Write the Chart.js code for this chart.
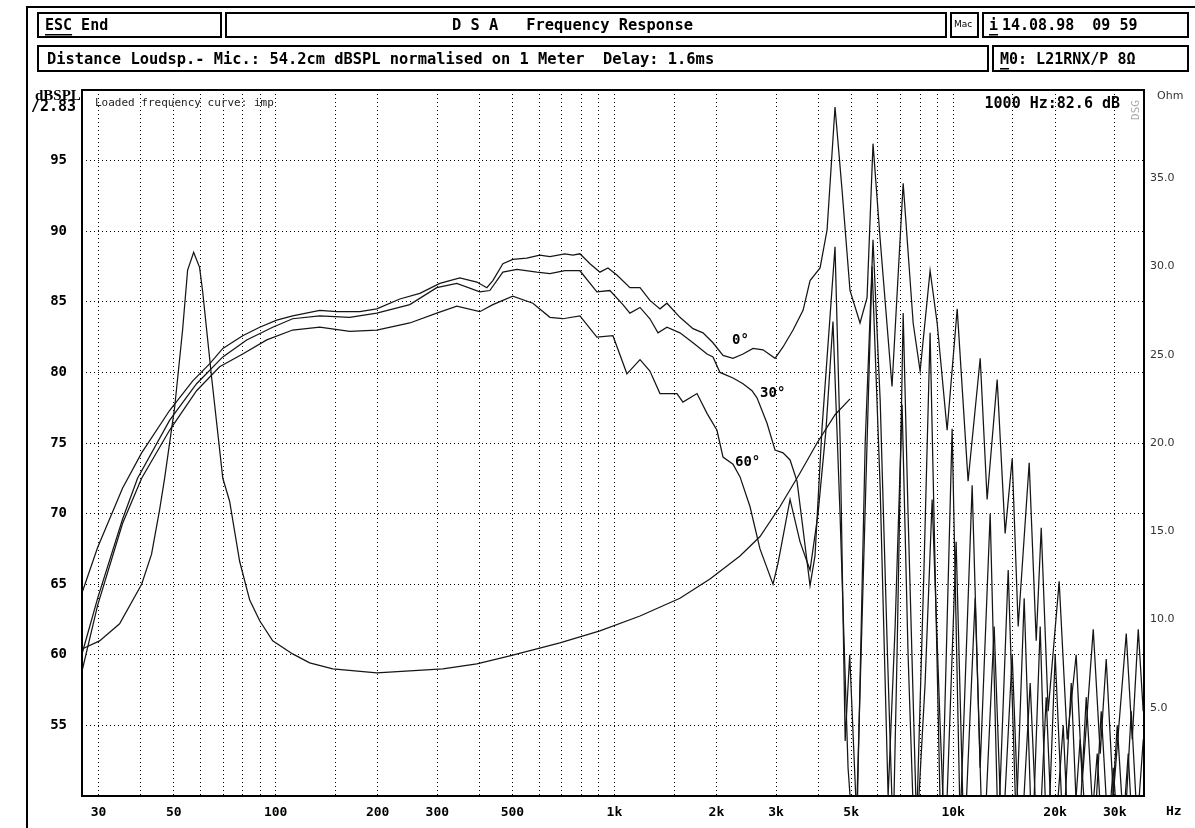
<!DOCTYPE html>
<html><head><meta charset="utf-8">
<script src="https://cdn.jsdelivr.net/npm/chart.js@4.4.1/dist/chart.umd.min.js"></script>
<style>html,body{margin:0;padding:0;background:#fff;overflow:hidden}canvas{display:block}</style>
</head><body>
<canvas id="c" width="1195" height="828"></canvas>
<script>
// ---------- data (frequency in Hz, level in dBSPL, impedance in Ohm) ----------
const F_0 = [26.9,29.8,35.3,40.2,48.6,56.9,63.8,69.8,79.9,89.7,100.7,112.2,134.9,151.4,177.1,198.8,232.5,266.4,305.1,349.6,392.5,420.1,437.6,468.5,501,551,602,645,714,754,791,847,906,957,1017,1111,1190,1273,1363,1429,1561,1706,1826,1954,2092,2239,2397,2566,2746,2980,3146,3368,3605,3781,4047,4245,
  4480,4700,4960,5310,5570,5800,6090,6600,7120,7620,7990,8550,8970,9600,10280,11070,12020,12600,13490,14240,14940,15560,16770,17590,18200,19080,20560,21720,23080,24050,25920,27180,28310,29700,32440,33790,35200,36400];
const DB_0 = [64.5,67.6,71.8,74.3,77.3,79.4,80.6,81.7,82.6,83.2,83.7,84.0,84.4,84.3,84.3,84.5,85.2,85.6,86.3,86.7,86.4,86.0,86.5,87.7,88.0,88.1,88.3,88.2,88.4,88.3,88.4,87.7,87.1,87.4,86.9,86.0,86.0,85.1,84.5,84.9,83.9,83.1,82.8,82.1,81.2,81.0,81.3,81.7,81.6,81.0,81.8,83.0,84.4,86.5,87.4,90.1,
  98.8,92.9,85.8,83.5,85.3,96.2,89.4,79.0,93.4,83.5,80.1,87.2,83.5,75.9,84.5,72.3,81.0,71.0,79.5,68.6,73.9,62.0,73.6,61.0,69.0,56.0,65.2,54.0,60.0,51.0,61.8,53.0,59.7,50.0,61.5,54.0,61.8,56.0];

const F_30 = [26.9,29.8,35.3,39.1,48.6,58.4,69.8,82.1,97.97,112.2,134.9,165.4,198.8,248.8,298.9,342.5,400.5,428.7,468.5,515.2,590.2,645,714,791,887.7,969.9,1059.5,1111,1190,1273,1344.8,1429,1561,1706,1876.5,1954,2049.5,2239,2397,2548,2636,2822,2980,3146,3300,3460,
  3600,3780,3910,4100,4480,4640,4800,4950,5200,5500,5800,6090,6400,6650,6830,7120,7360,7800,8200,8550,9216,9932,10488,11380,12017,12863,13583,14540,15351,16208,17115,18072,18954,20012,21134,22319,23394,24713,26094,27366,28901,30518,32009,33561,34963,36417];
const DB_30 = [60.2,64.0,69.6,72.5,76.6,79.2,81.1,82.3,83.2,83.8,84.0,83.9,84.2,84.8,86.0,86.3,85.7,85.8,87.1,87.3,87.1,87.0,87.2,87.2,85.7,85.8,84.8,84.2,84.6,83.8,82.8,83.2,82.8,82.1,81.3,81.1,80.0,79.6,79.2,78.7,78.2,76.4,74.5,74.3,73.8,72.3,
  69.0,64.9,67.0,76.0,88.9,75.0,53.9,60.0,48.0,75.0,89.4,78.0,60.0,47.0,60.0,84.2,70.0,48.0,66.0,82.8,46.0,76.0,48.0,72.0,52.0,70.0,47.0,66.0,48.0,64.0,46.0,62.0,45.0,60.0,47.0,58.0,46.0,57.0,47.0,56.0,46.0,55.0,47.0,56.0,48.0,54.0];

const F_60 = [26.9,29.8,35.3,40.2,48.6,58.4,68.3,79.9,94.1,112.2,134.9,165.4,198.8,248.8,298.9,342.5,400.5,437.6,501,574.4,645,704.3,791,887.7,989.8,1088.7,1190,1273,1363,1530,1593,1753,1876.5,2008,2092,2239,
  2349,2513,2690,2939,3041,3300,3532,3780,3992,4215,4418,4635,4895,5134,5495,5763,6086,6427,6741,7068,7362,7721,8266,8670,9154,9471,10206,10777,11614,12264,13217,13953,14939,15773,16884,17827,18826,19743,21134,22163,23714,25050,26634,27931,29700,31143,32882,34247,35678,36500];
const DB_60 = [59.0,63.5,69.3,72.5,75.9,78.7,80.4,81.3,82.3,83.0,83.2,82.9,83.0,83.5,84.2,84.7,84.3,84.8,85.4,84.9,83.9,83.8,84.0,82.5,82.6,79.9,80.9,80.1,78.5,78.5,77.9,78.5,77.1,75.9,74.0,73.5,
  72.6,70.5,67.5,65.0,66.5,71.0,68.0,66.0,70.0,76.0,83.6,70.0,52.0,45.0,70.0,87.5,72.0,50.0,62.0,77.7,60.0,45.0,58.0,71.0,55.0,46.0,68.0,46.0,64.0,45.0,62.0,46.0,60.0,45.0,58.0,45.0,57.0,45.0,55.0,44.0,54.0,45.0,53.0,44.0,52.0,45.0,53.0,45.0,50.0,46.0];

const F_IMP = [26.9,30.2,34.6,40.2,43.0,45.4,46.99,50.3,53.1,54.95,57.25,59.6,60.85,64.7,69.8,73.1,78.25,83.8,89.7,97.97,112.2,126,147.4,198.8,248.8,311.3,392.5,491.2,690.2,906,1190,1561,1915,2348,2691,3083,3532,3965,4481,4962];
const OHM_IMP = [8.34,8.79,9.76,12.0,13.7,16.2,18.0,22.0,26.4,29.8,30.8,29.95,28.6,23.7,18.0,16.7,13.3,11.1,9.93,8.79,8.05,7.54,7.20,6.98,7.09,7.20,7.49,7.94,8.68,9.36,10.2,11.2,12.3,13.6,14.7,16.4,18.3,20.0,21.6,22.5];

// axis ticks / labels
const X_GRID = [30,40,50,60,70,80,90,100,150,200,300,400,500,600,700,800,900,1000,1500,2000,3000,4000,5000,6000,7000,8000,9000,10000,15000,20000,30000];
const X_LABELS = {30:'30',50:'50',100:'100',200:'200',300:'300',500:'500',1000:'1k',2000:'2k',3000:'3k',5000:'5k',10000:'10k',20000:'20k',30000:'30k'};
const Y_LABELS = [55,60,65,70,75,80,85,90,95];
const OHM_LABELS = [5,10,15,20,25,30,35];
// curve labels: [text, frequency, dB]
const CURVE_TAGS = [['0°',2224,82.3],['30°',2691,78.5],['60°',2270,73.6]];

const MONO = '"DejaVu Sans Mono", monospace';
const pts = (f, v) => f.map((x, i) => ({x, y: v[i]}));
const line = (data, axis) => ({data, yAxisID: axis, borderColor: '#151515', borderWidth: 1.25, pointRadius: 0, tension: 0, fill: false});

const frame = {
  id: 'frame',
  afterDraw(chart) {
    const {ctx, chartArea: a, scales} = chart;
    ctx.save();
    ctx.fillStyle = '#000'; ctx.strokeStyle = '#000';
    ctx.fillRect(26, 6, 2, 822);
    ctx.fillRect(26, 6, 1169, 2);
    ctx.lineWidth = 2;
    ctx.strokeRect(a.left, a.top, a.right - a.left, a.bottom - a.top);
    const box = (x1, y1, x2, y2) => { ctx.lineWidth = 2; ctx.strokeRect(x1 + 1, y1 + 1, x2 - x1 - 2, y2 - y1 - 2); };
    box(37, 12, 222, 38); box(225, 12, 947, 38); box(950, 12, 979, 38); box(982, 12, 1189, 38);
    box(37, 45, 989, 72); box(992, 45, 1189, 72);
    ctx.textBaseline = 'middle'; ctx.textAlign = 'left';
    ctx.font = 'bold 15px ' + MONO;
    const txt = (s, x, y, ul) => {
      ctx.fillText(s, x, y);
      if (ul) { const w = ctx.measureText(s.slice(0, ul)).width; ctx.fillRect(x, y + 8, w, 1.5); }
    };
    txt('ESC', 45, 26, 3); txt('End', 45 + ctx.measureText('ESC ').width, 26);
    ctx.font = 'bold 15.4px ' + MONO;
    txt('D S A   Frequency Response', 452, 26);
    txt('Distance Loudsp.- Mic.: 54.2cm dBSPL normalised on 1 Meter  Delay: 1.6ms', 47, 60);
    ctx.font = 'bold 15px ' + MONO;
    txt('i', 989, 26, 1); txt('14.08.98  09 59', 1002, 26);
    txt('M0: L21RNX/P 8Ω', 1000, 60, 1);
    ctx.font = '9px "DejaVu Sans", sans-serif';
    ctx.fillText('Mac', 954, 25);
    ctx.font = 'bold 15px "Liberation Serif", serif';
    ctx.fillText('dBSPL', 35, 96);
    ctx.font = 'bold 15px ' + MONO;
    ctx.fillText('/2.83', 31, 107);
    ctx.font = '11px ' + MONO; ctx.fillStyle = '#222';
    ctx.fillText('Loaded frequency curve: imp', 95, 103);
    ctx.fillStyle = '#000';
    ctx.font = 'bold 15px ' + MONO;
    ctx.textAlign = 'right';
    ctx.fillText('1000 Hz:82.6 dB', 1120, 104);
    ctx.textAlign = 'left';
    ctx.font = '11px "DejaVu Sans", sans-serif'; ctx.fillStyle = '#333';
    ctx.fillText('Ohm', 1157, 96);
    ctx.font = 'bold 13px ' + MONO; ctx.fillStyle = '#000';
    ctx.fillText('Hz', 1166, 812);
    ctx.save(); ctx.translate(1136, 110); ctx.rotate(-Math.PI / 2);
    ctx.font = '11px ' + MONO; ctx.fillStyle = '#aaa'; ctx.textAlign = 'center';
    ctx.fillText('DSG', 0, 0); ctx.restore();
    ctx.font = 'bold 14px ' + MONO; ctx.fillStyle = '#000';
    CURVE_TAGS.forEach(([t, f, v]) => ctx.fillText(t, scales.x.getPixelForValue(f), scales.y.getPixelForValue(v)));
    ctx.restore();
  }
};

new Chart(document.getElementById('c'), {
  type: 'line',
  data: {datasets: [
    line(pts(F_0, DB_0), 'y'), line(pts(F_30, DB_30), 'y'), line(pts(F_60, DB_60), 'y'),
    line(pts(F_IMP, OHM_IMP), 'yR')
  ]},
  options: {
    responsive: false, animation: false, devicePixelRatio: 1,
    layout: {padding: {top: 90, left: 0, right: 0, bottom: 0}},
    plugins: {legend: {display: false}, tooltip: {enabled: false}},
    scales: {
      x: {
        type: 'logarithmic', min: 26.8, max: 36600, position: 'bottom',
        afterFit: s => { s.height = 32; },
        afterBuildTicks: s => { s.ticks = X_GRID.map(v => ({value: v})); },
        ticks: {autoSkip: false, maxRotation: 0, minRotation: 0, padding: 9, color: '#000',
          font: {family: MONO, size: 13, weight: 'bold'}, callback: v => X_LABELS[v] || ''},
        grid: {color: '#000', lineWidth: 1, drawTicks: false},
        border: {display: false, dash: [1, 3]}
      },
      y: {
        min: 50, max: 100, position: 'left',
        afterFit: s => { s.width = 82; },
        afterBuildTicks: s => { s.ticks = [50].concat(Y_LABELS, [100]).map(v => ({value: v})); },
        ticks: {padding: 15, color: '#000', font: {family: MONO, size: 14, weight: 'bold'},
          callback: v => Y_LABELS.includes(v) ? String(v) : ''},
        grid: {color: c => (c.tick && Y_LABELS.includes(c.tick.value)) ? '#000' : 'rgba(0,0,0,0)', lineWidth: 1, drawTicks: false},
        border: {display: false, dash: [1, 3]}
      },
      yR: {
        min: 0, max: 40, position: 'right',
        afterFit: s => { s.width = 51; },
        afterBuildTicks: s => { s.ticks = OHM_LABELS.map(v => ({value: v})); },
        ticks: {padding: 6, color: '#333', font: {family: '"DejaVu Sans", sans-serif', size: 11},
          callback: v => v.toFixed(1)},
        grid: {display: false, drawTicks: false},
        border: {display: false}
      }
    }
  },
  plugins: [frame]
});
</script>
</body></html>
